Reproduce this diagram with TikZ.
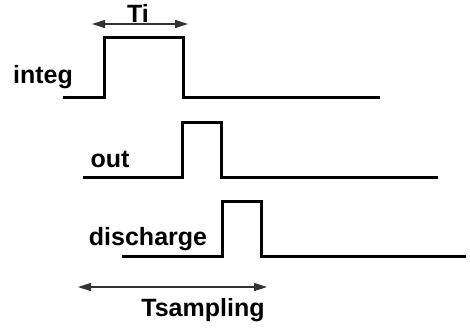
\documentclass[tikz,border=0pt]{standalone}
\usepackage{fontspec}
\setmainfont{Liberation Sans}
\usetikzlibrary{arrows.meta, positioning}

\begin{document}
\begin{tikzpicture}[x=1pt, y=-1pt, >={Triangle[length=13pt, width=8pt]},
    wave/.style={line width=3pt, line join=miter},
    span/.style={<->, line width=1.1pt, black!80},
    lbl/.style={font=\fontsize{25}{30}\selectfont\bfseries, inner sep=0pt, anchor=base}]

    \useasboundingbox (0,0) rectangle (470,330);

    % --- integ pulse ---
    \draw[wave] (63,97) -- (104,97) -- (104,37) -- (183,37) -- (183,97) -- (380,97);
    \node[lbl] (integ) at (43,83) {integ};

    % Ti span
    \coordinate (tiL) at (92,24);
    \coordinate (tiR) at (188,24);
    \draw[span] (tiL) -- (tiR);
    \node[lbl] (ti) at (138,22) {Ti};

    % --- out pulse ---
    \draw[wave] (83,177) -- (182,177) -- (182,122) -- (221,122) -- (221,177) -- (438,177);
    \node[lbl] (out) at (110,167) {out};

    % --- discharge pulse ---
    \draw[wave] (122,256) -- (222,256) -- (222,201) -- (261,201) -- (261,256) -- (466,256);
    \node[lbl] (discharge) at (148,245) {discharge};

    % Tsampling span
    \coordinate (tsL) at (78,287);
    \coordinate (tsR) at (267,287);
    \draw[span] (tsL) -- (tsR);
    \node[lbl] (tsampling) at (203,316) {Tsampling};

\end{tikzpicture}
\end{document}
